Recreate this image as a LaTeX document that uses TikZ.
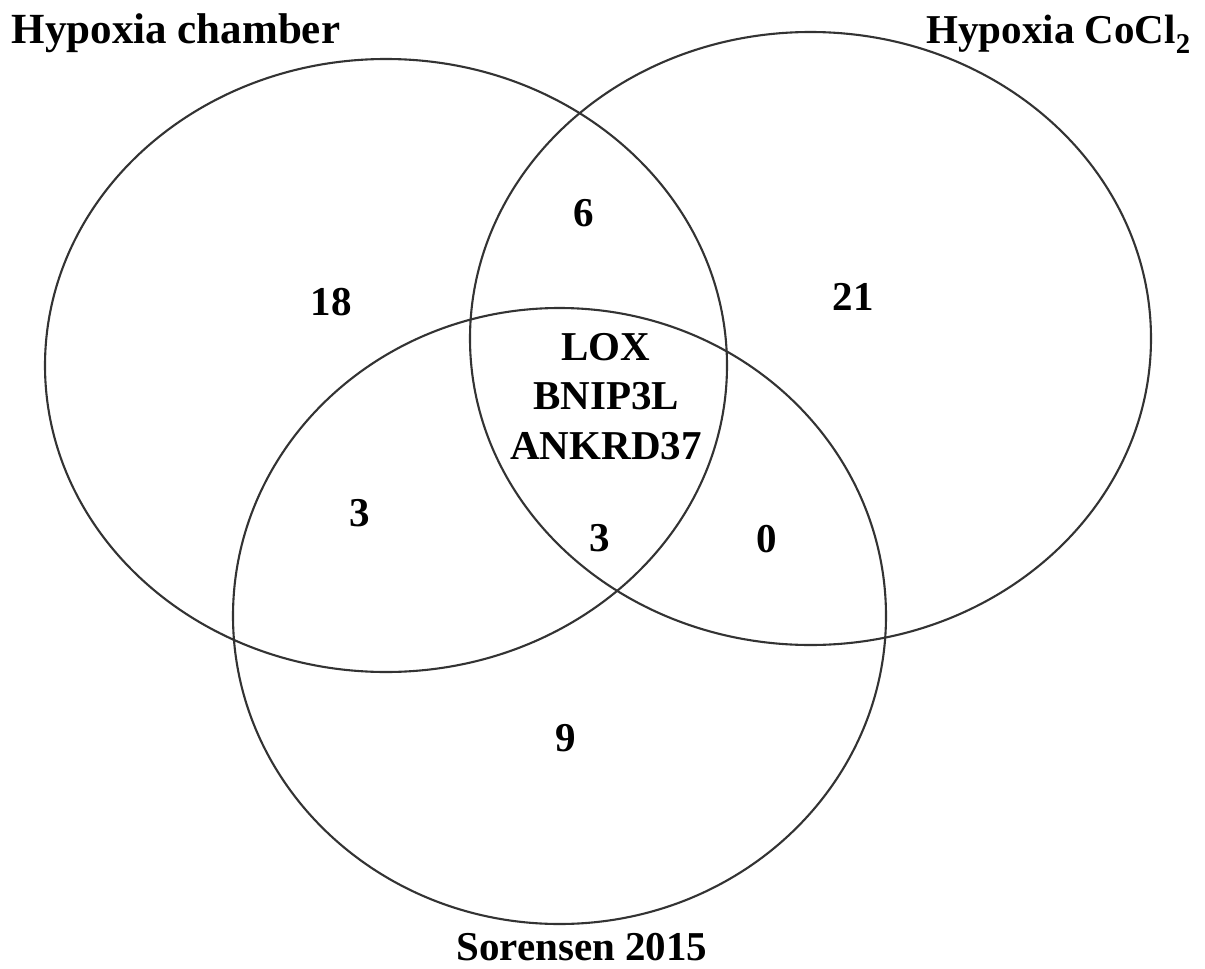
\documentclass[tikz,border=0pt]{standalone}
\usepackage{fontspec}
\setmainfont{Liberation Serif}
\begin{document}
\begin{tikzpicture}[x=1pt,y=-1pt,
  setline/.style={draw=black!80, line width=2.1pt},
  lbl/.style={font=\fontsize{41}{49.5}\selectfont\bfseries, inner sep=0pt, text=black}]
\useasboundingbox[fill=white] (0,0) rectangle (1205,969);
% sets
\draw[setline] (386,365.5) ellipse [x radius=341, y radius=306.5];
\draw[setline] (810.5,338.5) ellipse [x radius=340.5, y radius=306.5];
\draw[setline] (559.5,616) ellipse [x radius=326.5, y radius=308];
% set titles
\node[lbl, font=\fontsize{43}{49.5}\selectfont\bfseries, anchor=base west] (tchamber) at (11.5,43) {Hypoxia chamber};
\node[lbl, anchor=base east] (tcocl) at (1191,43) {Hypoxia CoCl\textsubscript{2}};
\node[lbl, anchor=base] (tsor) at (582,960) {Sorensen 2015};
% counts
\node[lbl] (n18) at (331,302) {18};
\node[lbl] (n6) at (584,213) {6};
\node[lbl] (n21) at (853,297) {21};
\node[lbl, align=center] (ncore) at (606,396.5) {LOX\\BNIP3L\\ANKRD37};
\node[lbl] (n3a) at (360,513) {3};
\node[lbl] (n3b) at (600,538) {3};
\node[lbl] (n0) at (767,539) {0};
\node[lbl] (n9) at (566,738) {9};
\end{tikzpicture}
\end{document}
